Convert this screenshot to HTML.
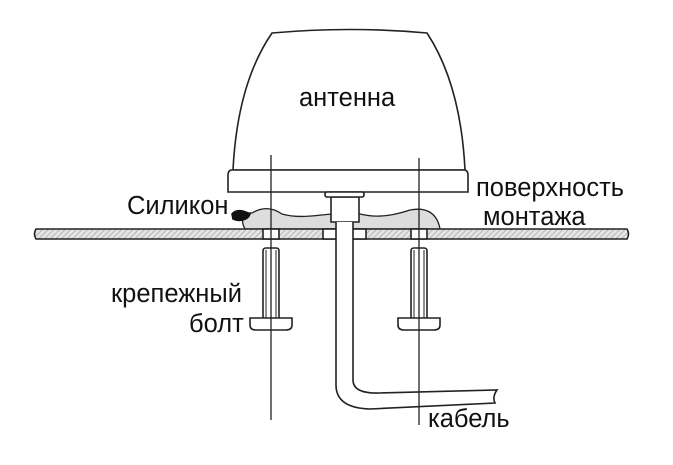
<!DOCTYPE html>
<html><head><meta charset="utf-8"><style>
html,body{margin:0;padding:0;background:#fff}
svg{display:block}
text{font-family:"Liberation Sans",sans-serif;font-size:25.5px;fill:#111}
</style></head><body>
<svg width="673" height="465" viewBox="0 0 673 465" xmlns="http://www.w3.org/2000/svg">
<defs>
<pattern id="h" width="4" height="4" patternUnits="userSpaceOnUse" patternTransform="rotate(45)">
<rect width="4" height="4" fill="#e4e4e4"/><line x1="0" y1="0" x2="0" y2="4" stroke="#9a9a9a" stroke-width="1.2"/>
</pattern>
</defs>
<g stroke="#222" stroke-width="1.6" fill="none">
<path d="M233,170 C236,110 250,65 272,33 Q350,26 427,33 C448,65 462,110 465,170 Z" fill="#fff"/>
<path d="M231,170 L465,170 Q468,171 468,175 L468,192 L228,192 L228,175 Q228,171 231,170 Z" fill="#fff"/>
<path d="M245,229 C240,220 243,212 252,213 C262,207 272,207 282,214 C300,219 316,215 333,214 L360,214 C380,219 398,214 410,210 C425,207 437,212 440,229 Z" fill="#ddd" stroke-width="1.3"/>
<path d="M232,214 C236,209 243,210 250,214 C248,220 240,222 233,219 Z" fill="#111" stroke="#111"/>
<path d="M36,229 L627,229 Q630,234 627,239 L36,239 Q33,234 36,229 Z" fill="url(#h)"/>
<rect x="263" y="229" width="16" height="10" fill="#fff"/>
<rect x="323" y="229" width="43" height="10" fill="#fff"/>
<rect x="411" y="229" width="16" height="10" fill="#fff"/>
<path d="M331,197 L359,197 L359,222 L331,222 Z" fill="#fff"/>
<rect x="325" y="192" width="39" height="5" rx="2" fill="#fff"/>
<path d="M336,222 L336,385 Q336,408 370,409 L495,403 Q492,397 497,390 L380,393 Q353,394 353,380 L353,222" fill="#fff"/>
<path d="M263,318 L263,251 Q263,248 266,248 L276,248 Q279,248 279,251 L279,318" fill="#fff"/>
<line x1="266" y1="250" x2="266" y2="318" stroke-width="1"/>
<line x1="276" y1="250" x2="276" y2="318" stroke-width="1"/>
<path d="M250,318 L292,318 L292,325 Q292,330 286,330 L256,330 Q250,330 250,325 Z" fill="#fff"/>
<path d="M411,318 L411,251 Q411,248 414,248 L424,248 Q427,248 427,251 L427,318" fill="#fff"/>
<line x1="414" y1="250" x2="414" y2="318" stroke-width="1"/>
<line x1="424" y1="250" x2="424" y2="318" stroke-width="1"/>
<path d="M398,318 L440,318 L440,325 Q440,330 434,330 L404,330 Q398,330 398,325 Z" fill="#fff"/>
<line x1="271" y1="155" x2="271" y2="420" stroke-width="1.3"/>
<line x1="419" y1="158" x2="419" y2="425" stroke-width="1.3"/>
</g>
<text x="299" y="106">антенна</text>
<text x="127" y="214">Силикон</text>
<text x="476" y="196">поверхность</text>
<text x="483" y="225">монтажа</text>
<text x="111" y="302">крепежный</text>
<text x="189" y="332">болт</text>
<text x="428" y="427">кабель</text>
</svg>
</body></html>
